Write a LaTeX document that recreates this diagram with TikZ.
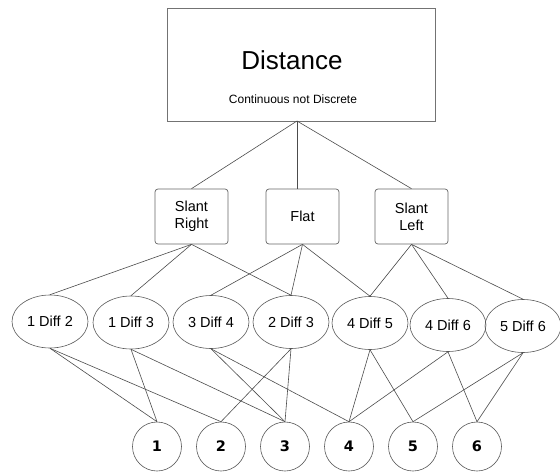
\documentclass[tikz,border=0pt]{standalone}
\usepackage{fontspec}
\setmainfont{Liberation Sans}
\newfontfamily\numfont{DejaVu Sans}
\usetikzlibrary{shapes.geometric}
\begin{document}
\begin{tikzpicture}[x=1pt,y=-1pt,
  every node/.style={font=\fontsize{14.5}{17}\selectfont, text=black},
  ln/.style={draw=black!70, line width=0.6pt},
  topbox/.style={draw=black!55, line width=0.8pt, minimum width=268pt, minimum height=113pt, inner sep=0},
  midbox/.style={draw=black!60, line width=0.7pt, rounded corners=3pt, minimum width=73pt, minimum height=55pt, inner sep=0, align=center},
  diff/.style={ellipse, draw=black!65, line width=0.6pt, minimum width=76pt, minimum height=53pt, inner sep=0},
  num/.style={circle, draw=black!65, line width=0.6pt, minimum size=49pt, inner sep=0, font=\numfont\bfseries\fontsize{14.5}{16}\selectfont}]
\fill[white] (0,0) rectangle (560,472);
\useasboundingbox (0,0) rectangle (560,472);
% top box
\node[topbox] (top) at (301,64.5) {};
\node[font=\fontsize{26}{30}\selectfont] (dist) at (292,60) {Distance};
\node[font=\fontsize{12}{14}\selectfont] (cont) at (293,99) {Continuous not Discrete};
\coordinate (tj) at (297,121);
% middle boxes
\node[midbox] (sr) at (191.5,216.5) {Slant\\Right};
\node[midbox] (fl) at (302.5,216.5) {Flat};
\node[midbox] (sl) at (411.5,216.5) {Slant\\Left};
% ellipses
\node[diff] (d12) at (50,321.5) {1 Diff 2};
\node[diff] (d13) at (131,322.5) {1 Diff 3};
\node[diff] (d34) at (211,322) {3 Diff 4};
\node[diff] (d23) at (291,322) {2 Diff 3};
\node[diff] (d45) at (370,323) {4 Diff 5};
\node[diff] (d46) at (448,325) {4 Diff 6};
\node[diff] (d56) at (523,326) {5 Diff 6};
% circles
\node[num] (c1) at (157,446.5) {1};
\node[num] (c2) at (221,446.5) {2};
\node[num] (c3) at (285,446.5) {3};
\node[num] (c4) at (349,446.5) {4};
\node[num] (c5) at (413,446.5) {5};
\node[num] (c6) at (477,446.5) {6};
% connectors top -> middle
\draw[ln] (tj) -- (sr.north);
\draw[ln] (tj) -- (tj |- fl.north);
\draw[ln] (tj) -- (sl.north);
% middle -> ellipses
\draw[ln] (sr.south) -- (d12.north);
\draw[ln] (sr.south) -- (d13.north);
\draw[ln] (sr.south) -- (d23.north);
\draw[ln] (fl.south) -- (d34.north);
\draw[ln] (fl.south) -- (d23.north);
\draw[ln] (fl.south) -- (d45.north);
\draw[ln] (sl.south) -- (d45.north);
\draw[ln] (sl.south) -- (d46.north);
\draw[ln] (sl.south) -- (d56.north);
% ellipses -> circles
\draw[ln] (d12.south) -- (c1.north);
\draw[ln] (d12.south) -- (c2.north);
\draw[ln] (d13.south) -- (c1.north);
\draw[ln] (d13.south) -- (c3.north);
\draw[ln] (d34.south) -- (c3.north);
\draw[ln] (d34.south) -- (c4.north);
\draw[ln] (d23.south) -- (c2.north);
\draw[ln] (d23.south) -- (c3.north);
\draw[ln] (d45.south) -- (c4.north);
\draw[ln] (d45.south) -- (c5.north);
\draw[ln] (d46.south) -- (c4.north);
\draw[ln] (d46.south) -- (c6.north);
\draw[ln] (d56.south) -- (c5.north);
\draw[ln] (d56.south) -- (c6.north);
\end{tikzpicture}
\end{document}
